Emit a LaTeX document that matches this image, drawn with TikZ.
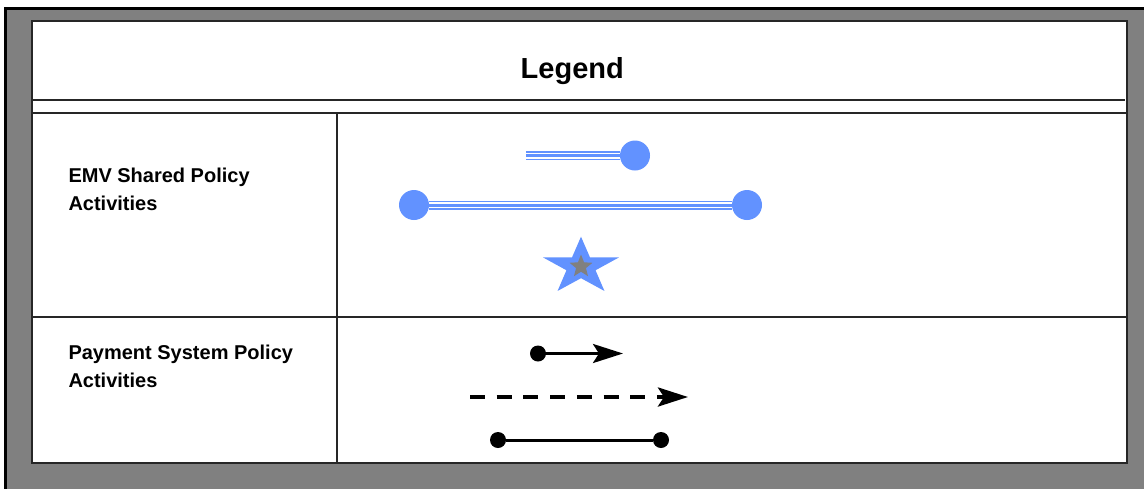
\documentclass[tikz,border=0pt]{standalone}
\usepackage{fontspec}
\setmainfont{Liberation Sans}
\usetikzlibrary{arrows.meta}

\definecolor{emvblue}{RGB}{98,146,255}
\definecolor{framegray}{RGB}{128,128,128}

\tikzset{
  rule/.style={line width=2pt, draw=black!85},
  rowlabel/.style={anchor=base west, align=left, inner sep=0pt, font=\bfseries\fontsize{20}{28.4}\selectfont},
  emvline/.style={line width=9pt, emvblue,
    postaction={draw=white, line width=6pt},
    postaction={draw=emvblue, line width=3pt}},
  emvdot/.style={circle, fill=emvblue, inner sep=0pt, minimum size=30pt},
  psdot/.style={circle, fill=black, inner sep=0pt, minimum size=16pt},
  psarrow/.style={line width=3pt, -{Stealth[length=30pt, width=19pt, inset=6pt]}},
}

\begin{document}
\begin{tikzpicture}[x=1pt, y=-1pt]
    \useasboundingbox (0,0) rectangle (1144,488);

    % frame and table
    \draw[line width=3pt, fill=framegray] (5.7,8.3) rectangle (1170,510);

    \coordinate (NW) at (32,21);
    \coordinate (SE) at (1127,462.5);
    \draw[rule, fill=white] (NW) rectangle (SE);
    \draw[rule] (32,99.5) -- (1125,99.5);
    \draw[rule] (32,112.5) -- (1127,112.5);
    \draw[rule] (32,317) -- (1127,317);
    \draw[rule] (337,112.5) -- (337,462.5);

    \node[anchor=base, font=\bfseries\fontsize{29}{35}\selectfont] (title) at (572.3,78.3) {Legend};

    \node[rowlabel] (emvtext) at (68.3,210.7) {EMV Shared Policy\\Activities};
    \node[rowlabel] (pstext) at (68.3,387.7) {Payment System Policy\\Activities};

    % EMV shared policy symbols
    \coordinate (s1) at (526,155.5);
    \node[emvdot] (d1) at (635,155.5) {};
    \draw[emvline] (s1) -- (d1);

    \node[emvdot] (d2) at (414,205) {};
    \node[emvdot] (d3) at (747,205) {};
    \draw[emvline] (d2) -- (d3);

    \begin{scope}[shift={(581,266.7)}, xscale=1.33]
      \fill[emvblue] (-90:30) \foreach \k in {1,...,9} { -- ({-90+36*\k}:{ifthenelse(mod(\k,2)==1,11.5,30)}) } -- cycle;
    \end{scope}
    \begin{scope}[shift={(581,266.5)}]
      \fill[framegray] (-90:12) \foreach \k in {1,...,9} { -- ({-90+36*\k}:{ifthenelse(mod(\k,2)==1,5.2,12)}) } -- cycle;
    \end{scope}

    % payment system policy symbols
    \node[psdot] (p1) at (538,353.5) {};
    \coordinate (p2) at (623,353.5);
    \draw[psarrow] (p1) -- (p2);

    \coordinate (q1) at (470,397);
    \coordinate (q2) at (688,397);
    \draw[psarrow, line width=4pt, dash pattern=on 15pt off 11.7pt] (q1) -- (q2);

    \node[psdot] (r1) at (498,440) {};
    \node[psdot] (r2) at (661,440) {};
    \draw[line width=3pt] (r1) -- (r2);
  \end{tikzpicture}
\end{document}
